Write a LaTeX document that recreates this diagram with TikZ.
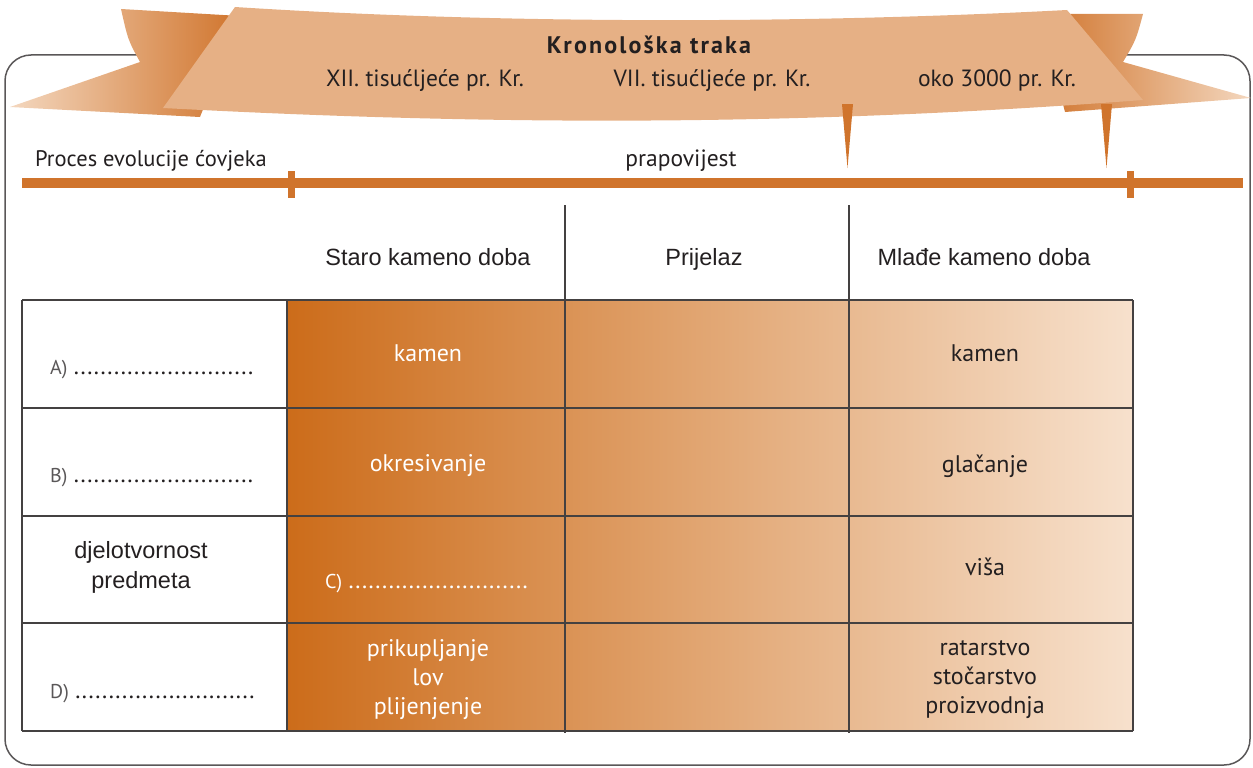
\documentclass[tikz,border=0pt]{standalone}
\usepackage{fontspec}
\setmainfont{PT Sans}
\newfontfamily\helv{Liberation Sans}
\usetikzlibrary{calc}

\definecolor{rust}{RGB}{208,116,44}
\definecolor{band}{RGB}{230,176,133}
\definecolor{pale}{RGB}{247,225,205}
\definecolor{deep}{RGB}{204,108,26}
\definecolor{ink}{RGB}{35,31,32}

\begin{document}
\begin{tikzpicture}[x=1pt, y=-1pt,
        lbl/.style={anchor=base, text=ink, inner sep=0pt, font=\fontsize{23.5}{28}\selectfont},
        hdr/.style={anchor=base, text=ink, inner sep=0pt, font=\helv\fontsize{23.5}{28}\selectfont},
        cell/.style={text=ink, inner sep=0pt, align=center, font=\fontsize{24}{29}\selectfont},
        wcell/.style={cell, text=white},
        side/.style={cell, font=\helv\fontsize{23.5}{30}\selectfont},
        gap/.style={anchor=base west, inner sep=0pt, font=\fontsize{24}{28}\selectfont},
        grid/.style={draw=ink!85, line width=1.4pt},
        ]
    \useasboundingbox (0,0) rectangle (1253,768);

    % frame
    \draw [ink!75, line width=1.5pt, rounded corners=26pt] (5,55) rectangle (1250,765);

    % ribbon tails
    \shade [left color=pale!80!band, right color=rust] (121,9) -- (240,16) -- (200,117) -- (10,107) -- (140,62) .. controls (128,40) .. (121,9) -- cycle;
    \shade [left color=rust, right color=pale!80!band] (1143,14) -- (1040,14) -- (1065,112) -- (1251,98) -- (1123,62) .. controls (1136,40) .. (1143,14) -- cycle;

    % ribbon
    \fill [band] (235,7) .. controls (500,24) and (800,24) .. (1067,10) -- (1143,100) .. controls (800,126) and (500,126) .. (163,108) -- cycle;

    \node (title) at (649,54) [anchor=base, text=ink, inner sep=0pt, font=\bfseries\fontsize{24}{28}\selectfont\addfontfeatures{LetterSpace=9}] {Kronološka traka};
    \node (XII) at (425,87) [lbl] {XII. tisućljeće pr. Kr.};
    \node (VII) at (712,87) [lbl] {VII. tisućljeće pr. Kr.};
    \node (oko) at (997,87) [lbl] {oko 3000 pr. Kr.};

    % pointers
    \fill [rust] (842,104) -- (853,104) -- (847.5,168) -- cycle;
    \fill [rust] (1101,104) -- (1112,104) -- (1106.5,168) -- cycle;

    % time line
    \fill [rust] (22,178) rectangle (1243,188);
    \fill [rust] (288,171) rectangle (295,198);
    \fill [rust] (1127,171) rectangle (1134,198);

    \node (evol) at (151,166) [lbl, font=\fontsize{22.5}{27}\selectfont] {Proces evolucije ćovjeka};
    \node (prap) at (681,166) [lbl] {prapovijest};

    % table
    \shade [left color=deep, right color=pale] (287,300) rectangle (1133,731);
    \foreach \y in {300,408,516,623,731}
        \draw [grid] (22,\y) -- (1133,\y);
    \foreach \x in {22,287,1133}
        \draw [grid] (\x,300) -- (\x,731);
    \foreach \x in {565,849}
        \draw [grid, line width=1.2pt] (\x,205) -- (\x,733);

    \node (staro) at (428,265) [hdr] {Staro kameno doba};
    \node (prij) at (704,265) [hdr] {Prijelaz};
    \node (mlad) at (984,265) [hdr] {Mlađe kameno doba};

    \node (qA) at (50,374) [gap] {{\fontsize{20}{24}\selectfont\color{ink!75}A)} \textcolor{ink}{...........................}};
    \node (qB) at (50,482) [gap] {{\fontsize{20}{24}\selectfont\color{ink!75}B)} \textcolor{ink}{...........................}};
    \node (djel) at (141,567) [side] {djelotvornost\\predmeta};
    \node (qD) at (50,698) [gap] {{\fontsize{20}{24}\selectfont\color{ink!75}D)} \textcolor{ink}{...........................}};

    \node (kam1) at (428,361) [wcell, anchor=base] {kamen};
    \node (okr) at (428,471) [wcell, anchor=base] {okresivanje};
    \node (qC) at (325,588) [gap, text=white] {{\fontsize{20}{24}\selectfont C)} ...........................};
    \node (lov) at (428,680) [wcell] {prikupljanje\\lov\\plijenjenje};

    \node (kam2) at (985,361) [cell, anchor=base] {kamen};
    \node (glac) at (985,472) [cell, anchor=base] {glačanje};
    \node (visa) at (985,575) [cell, anchor=base] {viša};
    \node (rat) at (985,680) [cell] {ratarstvo\\stočarstvo\\proizvodnja};
\end{tikzpicture}
\end{document}
